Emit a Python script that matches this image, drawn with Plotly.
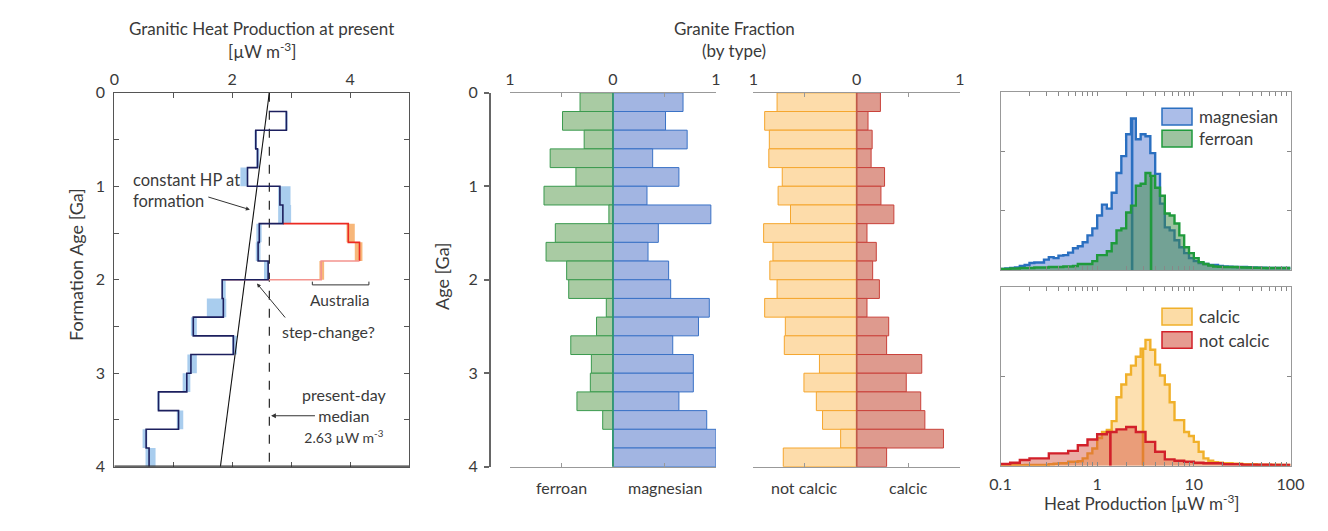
import numpy as np
import plotly.graph_objects as go

W, H = 1328, 531
FONT = "Lato"
TXT = "#3a3a3a"

# ---------------- data ----------------
# age bins (Ga), 0.2 Ga wide
age_edges = [0.0, 0.2, 0.4, 0.6, 0.8, 1.0, 1.2, 1.4, 1.6, 1.8, 2.0,
             2.2, 2.4, 2.6, 2.8, 3.0, 3.2, 3.4, 3.6, 3.8, 4.0]
# left panel: median granitic heat production per age bin (uW/m3)
hp_median = [2.63, 2.92, 2.40, 2.43, 2.26, 2.81, 2.86, 2.46, 2.44, 2.61,
             1.83, 1.85, 1.34, 2.02, 1.30, 1.23, 0.75, 1.09, 0.54, 0.59]
hp_low = [2.63, 2.90, 2.38, 2.41, 2.14, 2.78, 2.78, 2.41, 2.40, 2.54,
          1.83, 1.57, 1.30, 2.00, 1.24, 1.16, 0.74, 1.06, 0.48, 0.53]
hp_high = [2.63, 2.94, 2.42, 2.46, 2.27, 2.99, 3.00, 2.50, 2.48, 2.62,
           1.89, 1.90, 1.40, 2.08, 1.40, 1.29, 0.77, 1.17, 0.56, 0.70]
# Australia (bins 1.4-2.0 Ga)
aus_edges = [1.4, 1.6, 1.8, 2.0]
aus_median = [3.97, 4.16, 3.51]
aus_low = [3.94, 4.08, 3.48]
aus_high = [4.08, 4.21, 3.56]
# constant heat production at formation curve
const_age = [0.0, 4.0]
const_hp = [2.63, 1.80]
present_median = 2.63

# middle panels: granite fraction by type per age bin
ferroan = [0.32, 0.49, 0.28, 0.61, 0.36, 0.67, 0.04, 0.56, 0.65, 0.45,
           0.43, 0.065, 0.16, 0.41, 0.21, 0.22, 0.35, 0.10, 0.0, 0.0]
magnesian = [0.68, 0.51, 0.72, 0.385, 0.64, 0.33, 0.95, 0.44, 0.34, 0.54,
             0.56, 0.935, 0.83, 0.58, 0.78, 0.78, 0.64, 0.91, 1.0, 1.0]
not_calcic = [0.77, 0.89, 0.845, 0.85, 0.72, 0.76, 0.64, 0.90, 0.81, 0.84,
              0.77, 0.89, 0.69, 0.70, 0.36, 0.51, 0.39, 0.33, 0.155, 0.71]
calcic = [0.23, 0.11, 0.15, 0.14, 0.27, 0.235, 0.36, 0.10, 0.19, 0.155,
          0.22, 0.10, 0.31, 0.29, 0.63, 0.48, 0.62, 0.66, 0.84, 0.29]

# right panels: histograms of log10 heat production
fine_log_edges = np.round(np.arange(-1.0, 2.0001, 0.05), 3)   # 60 bins
coarse_log_edges = np.round(np.arange(-1.0, 2.0001, 0.1), 3)  # 30 bins
mag_counts = [1, 1.5, 2, 2.5, 4, 5, 7, 7.5, 7.5, 10.5,
              13, 12, 14.5, 15, 17.5, 22, 24, 28, 35, 42,
              55, 66, 62, 78, 98, 115, 137, 153, 132, 137,
              135, 118, 97, 67, 43, 40, 30, 23, 17, 12,
              9, 7, 6, 5, 5, 4, 3.5, 3.3, 3, 3,
              3, 2.8, 2.5, 2.3, 2.2, 2, 2, 2, 2, 2]
fer_counts = [1, 1, 1.5, 1.5, 2, 2, 2, 2.5, 2.5, 2.5,
              3, 3, 3, 3.5, 3.5, 4, 6, 6, 6, 9,
              15, 15, 19, 27, 40, 42, 58, 65, 85, 87,
              98, 95, 83, 75, 57, 55, 47, 35, 23, 17,
              12, 8, 6, 4.5, 3.5, 3.3, 3, 3, 3, 2.8,
              2.5, 2.5, 2.3, 2.2, 2, 2, 2, 2, 2, 2]
calcic_counts = [0.3, 0.3, 0.5, 0.5, 0.5, 0.7, 0.7, 0.7, 0.7, 0.7,
                 1.5, 2, 2.4, 2.4, 4, 4, 4.5, 7.4, 12.4, 17.4,
                 28, 34, 36, 45, 69, 82, 92, 101, 110, 118,
                 127, 117, 102, 91, 82, 64, 46, 46, 34, 30,
                 24, 14, 7.4, 5, 3.5, 3, 2.5, 2.5, 2, 2,
                 1.5, 1.5, 1.5, 1, 1, 1, 1, 1, 0.7, 0.7]
notcalcic_counts = [1.7, 3, 5.7, 7.4, 7.4, 12.4, 12.4, 15, 20.7, 26.4,
                    31.7, 34, 36.7, 39, 34, 24, 14, 6.4, 5, 4,
                    3, 2.4, 2.4, 1.5, 1.5, 1, 1, 1, 0.7, 0.7]
mag_median, fer_median = 2.30, 3.61
calcic_median, notcalcic_median = 2.98, 1.37

# ---------------- helpers ----------------
def px(x):
    return x / W


def py(y):
    return 1 - y / H


def fnt(size):
    return dict(family=FONT, size=size, color=TXT)


centers = [(a + b) / 2 for a, b in zip(age_edges[:-1], age_edges[1:])]
bin_w = age_edges[1] - age_edges[0]

fig = go.Figure()

# ---------- panel 1 ----------
fig.add_trace(go.Bar(orientation="h", y=centers,
                     x=[h - l for l, h in zip(hp_low, hp_high)], base=hp_low,
                     width=bin_w, marker=dict(color="#a9cdee", line=dict(width=0)),
                     xaxis="x", yaxis="y", hoverinfo="skip"))
aus_centers = [(a + b) / 2 for a, b in zip(aus_edges[:-1], aus_edges[1:])]
fig.add_trace(go.Bar(orientation="h", y=aus_centers,
                     x=[h - l for l, h in zip(aus_low, aus_high)], base=aus_low,
                     width=bin_w, marker=dict(color="#f7b77a", line=dict(width=0)),
                     xaxis="x", yaxis="y", hoverinfo="skip"))
fig.add_trace(go.Scatter(x=const_hp, y=const_age, mode="lines",
                         line=dict(color="#111111", width=1.1), xaxis="x", yaxis="y"))
fig.add_trace(go.Scatter(x=[present_median, present_median], y=[age_edges[0], age_edges[-1]],
                         mode="lines", line=dict(color="#111111", width=1.1, dash="dash"),
                         xaxis="x", yaxis="y"))
# Australia step line
i_start = age_edges.index(aus_edges[0])
i_end = age_edges.index(aus_edges[-1])
ax1 = [hp_median[i_start - 1], aus_median[0], aus_median[0], aus_median[1], aus_median[1]]
ay1 = [aus_edges[0], aus_edges[0], aus_edges[1], aus_edges[1], aus_edges[2]]
ax2 = [aus_median[1], aus_median[2], aus_median[2], hp_median[i_end]]
ay2 = [aus_edges[2], aus_edges[2], aus_edges[3], aus_edges[3]]
fig.add_trace(go.Scatter(x=ax1, y=ay1, mode="lines", line=dict(color="#ec2a22", width=1.6),
                         xaxis="x", yaxis="y"))
fig.add_trace(go.Scatter(x=ax2, y=ay2, mode="lines", line=dict(color="#f4948e", width=1.6),
                         xaxis="x", yaxis="y"))
# global median step line
sx, sy = [hp_median[0]], [age_edges[1]]
for i in range(1, len(hp_median)):
    sx += [hp_median[i], hp_median[i]]
    sy += [age_edges[i], age_edges[i + 1]]
fig.add_trace(go.Scatter(x=sx, y=sy, mode="lines", line=dict(color="#1c1f5e", width=1.6),
                         xaxis="x", yaxis="y"))

# ---------- panel 2: ferroan / magnesian ----------
fig.add_trace(go.Bar(orientation="h", y=centers, x=[-v for v in ferroan], width=bin_w,
                     marker=dict(color="#a9cba3", line=dict(color="#3a9a4e", width=1)),
                     xaxis="x2", yaxis="y2"))
fig.add_trace(go.Bar(orientation="h", y=centers, x=magnesian, width=bin_w,
                     marker=dict(color="#a2b5e2", line=dict(color="#3a72c6", width=1)),
                     xaxis="x2", yaxis="y2"))
# ---------- panel 3: calcic ----------
fig.add_trace(go.Bar(orientation="h", y=centers, x=[-v for v in not_calcic], width=bin_w,
                     marker=dict(color="#fddcaa", line=dict(color="#f5a62e", width=1)),
                     xaxis="x3", yaxis="y3"))
fig.add_trace(go.Bar(orientation="h", y=centers, x=calcic, width=bin_w,
                     marker=dict(color="#de9a8e", line=dict(color="#c9413a", width=1)),
                     xaxis="x3", yaxis="y3"))


# ---------- histograms ----------
def hist_trace(edges, counts, fill, line, xa, ya):
    x = list(10 ** np.array(edges))
    y = list(counts) + [counts[-1]]
    return go.Scatter(x=x, y=y, mode="lines", line=dict(color=line, width=2.4, shape="hv"),
                      fill="tozeroy", fillcolor=fill, xaxis=xa, yaxis=ya)


def median_trace(edges, counts, m, color, xa, ya):
    idx = int(np.searchsorted(edges, np.log10(m)) - 1)
    idx = max(0, min(idx, len(counts) - 1))
    return go.Scatter(x=[m, m], y=[0, counts[idx]], mode="lines",
                      line=dict(color=color, width=2.6), xaxis=xa, yaxis=ya)


fig.add_trace(hist_trace(fine_log_edges, mag_counts, "rgba(120,148,218,0.62)", "#2a6fc0", "x4", "y4"))
fig.add_trace(median_trace(fine_log_edges, mag_counts, mag_median, "#2a6fc0", "x4", "y4"))
fig.add_trace(hist_trace(fine_log_edges, fer_counts, "rgba(60,135,65,0.5)", "#1f9a3c", "x4", "y4"))
fig.add_trace(median_trace(fine_log_edges, fer_counts, fer_median, "#1f9a3c", "x4", "y4"))

fig.add_trace(hist_trace(fine_log_edges, calcic_counts, "rgba(252,214,150,0.75)", "#f0b02a", "x5", "y5"))
fig.add_trace(median_trace(fine_log_edges, calcic_counts, calcic_median, "#f0b02a", "x5", "y5"))
fig.add_trace(hist_trace(coarse_log_edges, notcalcic_counts, "rgba(210,75,55,0.45)", "#d2202a", "x5", "y5"))
fig.add_trace(median_trace(coarse_log_edges, notcalcic_counts, notcalcic_median, "#d2202a", "x5", "y5"))

# ---------------- axes ----------------
tf = fnt(16)
ydom = [py(466.7), py(92.8)]
fig.update_layout(
    xaxis=dict(domain=[px(114.3), px(409)], range=[0, 5], side="top", anchor="y",
               tickvals=[0, 1, 2, 3, 4, 5], ticktext=["0", "", "2", "", "4", ""],
               ticks="inside", ticklen=5, tickcolor="#555", showline=True, linecolor="#555",
               mirror="ticks", showgrid=False, zeroline=False, tickfont=tf, automargin=False),
    yaxis=dict(domain=ydom, range=[4, 0], anchor="x",
               tickvals=[0, 0.5, 1, 1.5, 2, 2.5, 3, 3.5, 4],
               ticktext=["0", "", "1", "", "2", "", "3", "", "4"],
               ticks="inside", ticklen=5, tickcolor="#555", showline=True, linecolor="#555",
               mirror="ticks", showgrid=False, zeroline=False, tickfont=tf, automargin=False,
               ticklabelstandoff=5),
    xaxis2=dict(domain=[px(510), px(716)], range=[-1, 1], side="top", anchor="y2",
                tickvals=[-1, -0.5, 0, 0.5, 1], ticktext=["1", "", "0", "", "1"],
                ticks="inside", ticklen=4, tickcolor="#999", showline=True, linecolor="#999",
                mirror="ticks", showgrid=False, zeroline=False, tickfont=tf, automargin=False),
    yaxis2=dict(domain=ydom, range=[4, 0], anchor="free", position=px(490),
                tickvals=[0, 1, 2, 3, 4], ticks="outside", ticklen=5, tickwidth=2,
                tickcolor="#666", showline=True, linecolor="#666", linewidth=2,
                showgrid=False, zeroline=False, tickfont=tf, automargin=False,
                ticklabelstandoff=3),
    xaxis3=dict(domain=[px(753.3), px(960)], range=[-1, 1], side="top", anchor="y3",
                tickvals=[-1, -0.5, 0, 0.5, 1], ticktext=["1", "", "0", "", "1"],
                ticks="inside", ticklen=4, tickcolor="#999", showline=True, linecolor="#999",
                mirror="ticks", showgrid=False, zeroline=False, tickfont=tf, automargin=False),
    yaxis3=dict(domain=ydom, range=[4, 0], anchor="x3", showline=False, ticks="",
                showticklabels=False, showgrid=False, zeroline=False, automargin=False),
)

log_ticks = []
for d in [0.1, 1, 10]:
    log_ticks += [d * k for k in range(1, 10)]
log_ticks.append(100)
log_text = [("0.1" if abs(v - 0.1) < 1e-9 else "1" if v == 1 else "10" if v == 10 else
             "100" if v == 100 else "") for v in log_ticks]
hx = dict(type="log", range=[-1, 2], tickvals=log_ticks, ticktext=log_text, ticks="inside",
          ticklen=4, tickcolor="#888", showline=True, linecolor="#999", mirror="ticks",
          showgrid=False, zeroline=False, tickfont=tf, automargin=False)
hy = dict(range=[0, 180], ticks="inside", ticklen=4, tickcolor="#888", showline=True,
          linecolor="#999", mirror="ticks", showgrid=False, zeroline=False,
          showticklabels=False, automargin=False)
fig.update_layout(
    xaxis4=dict(hx, domain=[px(1000.5), px(1290.5)], anchor="y4", showticklabels=False),
    yaxis4=dict(hy, domain=[py(270), py(91.7)], anchor="x4", tickvals=[60, 120]),
    xaxis5=dict(hx, domain=[px(1000.5), px(1290.5)], anchor="y5", ticklabelstandoff=4),
    yaxis5=dict(hy, domain=[py(465.7), py(287.3)], anchor="x5", tickvals=[90]),
)

# ---------------- shapes ----------------
shapes = [
    dict(type="line", xref="x", yref="y", x0=0, x1=5, y0=4, y1=4,
         line=dict(color="#333", width=2.5)),
    dict(type="line", xref="x2", yref="y2", x0=0, x1=0, y0=0, y1=4,
         line=dict(color="#2c9a6a", width=1.6)),
    dict(type="line", xref="x3", yref="y3", x0=0, x1=0, y0=0, y1=4,
         line=dict(color="#c05a48", width=1.6)),
    # Australia bracket
    dict(type="path", xref="x", yref="y",
         path="M 3.36,2.02 L 3.36,2.055 L 4.32,2.055 L 4.32,2.02",
         line=dict(color="#333", width=1)),
]
legend_items = [
    (108.3, 125, "rgba(120,148,218,0.62)", "#2a6fc0", "magnesian"),
    (130.3, 147, "rgba(60,135,65,0.5)", "#1f9a3c", "ferroan"),
    (308.3, 325, "rgba(252,214,150,0.85)", "#f0b02a", "calcic"),
    (331.7, 348.3, "rgba(210,75,55,0.55)", "#d2202a", "not calcic"),
]
annotations = []
for y0, y1, fc, lc, name in legend_items:
    shapes.append(dict(type="rect", xref="paper", yref="paper", x0=px(1162), x1=px(1192),
                       y0=py(y1), y1=py(y0), fillcolor=fc, line=dict(color=lc, width=1.5)))
    annotations.append(dict(xref="paper", yref="paper", x=px(1197), y=py((y0 + y1) / 2),
                            text=name, showarrow=False, xanchor="left", yanchor="middle",
                            font=fnt(17)))


def ptxt(x, y, text, size=17, **kw):
    d = dict(xref="paper", yref="paper", x=px(x), y=py(y), text=text, showarrow=False,
             xanchor="center", yanchor="middle", font=fnt(size))
    d.update(kw)
    return d


def btxt(xref, x, text):
    return dict(xref=xref, yref="paper", x=x, y=py(487), text=text, showarrow=False,
                xanchor="center", yanchor="middle", font=fnt(16))


annotations += [
    ptxt(261.7, 28.3, "Granitic Heat Production at present"),
    ptxt(261.7, 50.7, "[µW m<sup>-3</sup>]"),
    ptxt(734, 28.3, "Granite Fraction"),
    ptxt(734, 50.7, "(by type)"),
    ptxt(76, 265, "Formation Age [Ga]", size=18, textangle=-90),
    ptxt(442, 276, "Age [Ga]", size=18, textangle=-90),
    ptxt(1141.7, 502.7, "Heat Production [µW m<sup>-3</sup>]"),
    btxt("x2", -0.5, "ferroan"),
    btxt("x2", 0.5, "magnesian"),
    btxt("x3", -0.5, "not calcic"),
    btxt("x3", 0.5, "calcic"),
    # panel 1 notes
    dict(xref="x", yref="y", x=0.29, y=1.05, text="constant HP at<br>formation",
         showarrow=False, xanchor="left", yanchor="middle", align="left", font=fnt(16.5)),
    dict(xref="x", yref="y", x=2.30, y=1.25, axref="x", ayref="y", ax=1.57, ay=1.11,
         text="", showarrow=True, arrowhead=2, arrowsize=0.8, arrowwidth=1, arrowcolor="#333"),
    dict(xref="x", yref="y", x=3.63, y=2.55, text="step-change?", showarrow=False,
         font=fnt(16)),
    dict(xref="x", yref="y", x=2.42, y=2.04, axref="x", ayref="y", ax=2.92, ay=2.42,
         text="", showarrow=True, arrowhead=2, arrowsize=0.8, arrowwidth=1, arrowcolor="#333"),
    dict(xref="x", yref="y", x=3.83, y=2.22, text="Australia", showarrow=False, font=fnt(15.5)),
    dict(xref="x", yref="y", x=3.91, y=3.45,
         text="present-day<br>median<br><span style='font-size:14px'>2.63 µW m<sup>-3</sup></span>",
         showarrow=False, align="center", font=fnt(16)),
    dict(xref="x", yref="y", x=2.66, y=3.455, axref="x", ayref="y", ax=3.43, ay=3.455,
         text="", showarrow=True, arrowhead=2, arrowsize=0.8, arrowwidth=1.2, arrowcolor="#333"),
]

fig.update_layout(
    width=W, height=H, margin=dict(l=0, r=0, t=0, b=0), autosize=False,
    paper_bgcolor="white", plot_bgcolor="rgba(0,0,0,0)",
    barmode="overlay", showlegend=False,
    shapes=shapes, annotations=annotations,
    font=fnt(15),
)

fig.write_html("out.html")
